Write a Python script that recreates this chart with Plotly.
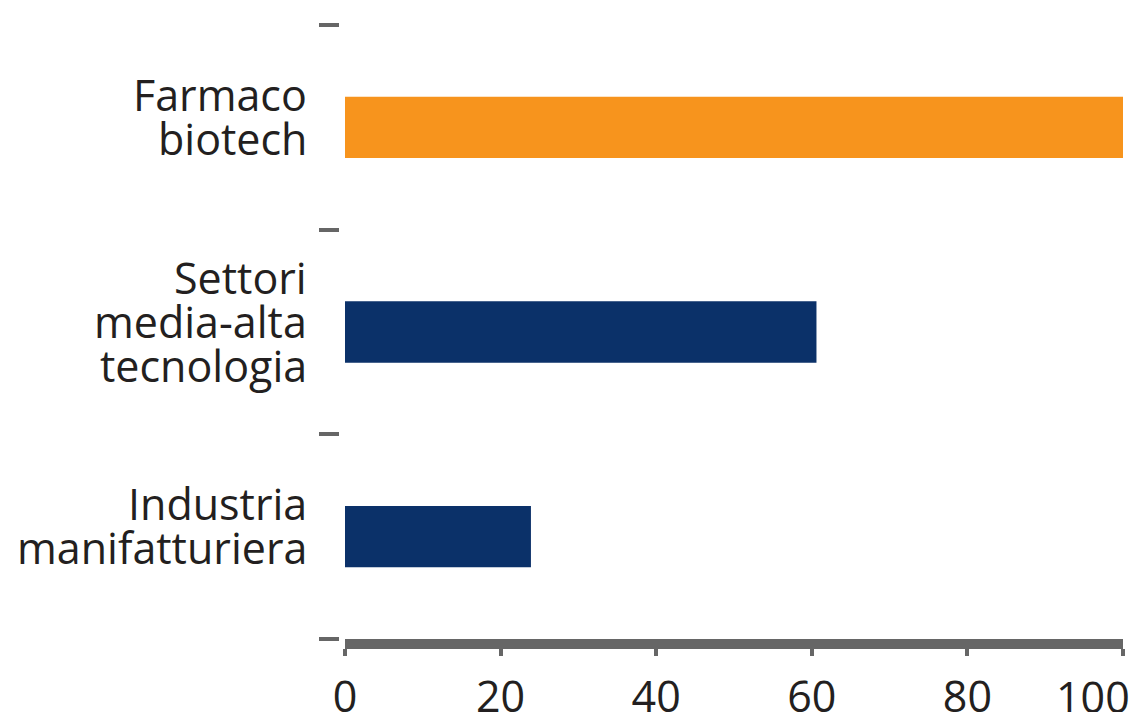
import plotly.graph_objects as go

category_lines = [
    ["Industria", "manifatturiera"],
    ["Settori", "media-alta", "tecnologia"],
    ["Farmaco", "biotech"],
]
values = [23.9, 60.6, 100]
colors = ["#0B3169", "#0B3169", "#F7941D"]
x_ticks = [0, 20, 40, 60, 80, 100]
x_tick_labels = ["0", "20", "40", "60", "80", "100"]
positions = [0, 1, 2]
boundaries = [-0.5, 0.5, 1.5, 2.5]

FONT = "Open Sans"
TEXT = "#231F20"
GREY = "#666666"
FS = 43
LINE_H = 44

fig = go.Figure(go.Bar(
    x=values, y=positions, orientation="h",
    marker=dict(color=colors, line=dict(width=0)),
    width=0.3,
))

annotations = []
for pos, lines in zip(positions, category_lines):
    n = len(lines)
    for i, txt in enumerate(lines):
        annotations.append(dict(
            text=txt, xref="paper", x=0, xanchor="right", xshift=-30,
            yref="y", y=pos, yanchor="middle",
            yshift=((n - 1) / 2 - i) * LINE_H + 11,
            showarrow=False, font=dict(family=FONT, size=FS, color=TEXT),
        ))

# last x tick label shifted inward so it stays inside the picture
annotations.append(dict(
    text=x_tick_labels[-1], xref="x", x=x_ticks[-1], xanchor="right", xshift=9,
    yref="paper", y=0, yanchor="top", yshift=-26,
    showarrow=False, font=dict(family=FONT, size=FS, color=TEXT),
))

fig.update_layout(
    width=1130, height=704,
    margin=dict(l=331, r=15, t=17, b=73),
    plot_bgcolor="white", paper_bgcolor="white",
    showlegend=False,
    font=dict(family=FONT, size=FS, color=TEXT),
    annotations=annotations,
    xaxis=dict(
        domain=[6/784, 1],
        range=[0, 100],
        tickvals=x_ticks, ticktext=x_tick_labels[:-1] + [""],
        ticks="outside", ticklen=7, tickwidth=4, tickcolor=GREY,
        ticklabelstandoff=4,
        showline=True, linewidth=10, linecolor=GREY,
        showgrid=False, zeroline=False, automargin=False,
        tickfont=dict(family=FONT, size=FS, color=TEXT),
    ),
    yaxis=dict(
        anchor="free", position=0,
        range=[-0.5, 2.5],
        tickvals=boundaries, showticklabels=False,
        ticks="outside", ticklen=20, tickwidth=4, tickcolor=GREY,
        showline=False, showgrid=False, zeroline=False, automargin=False,
    ),
)

fig.write_html("out.html")
